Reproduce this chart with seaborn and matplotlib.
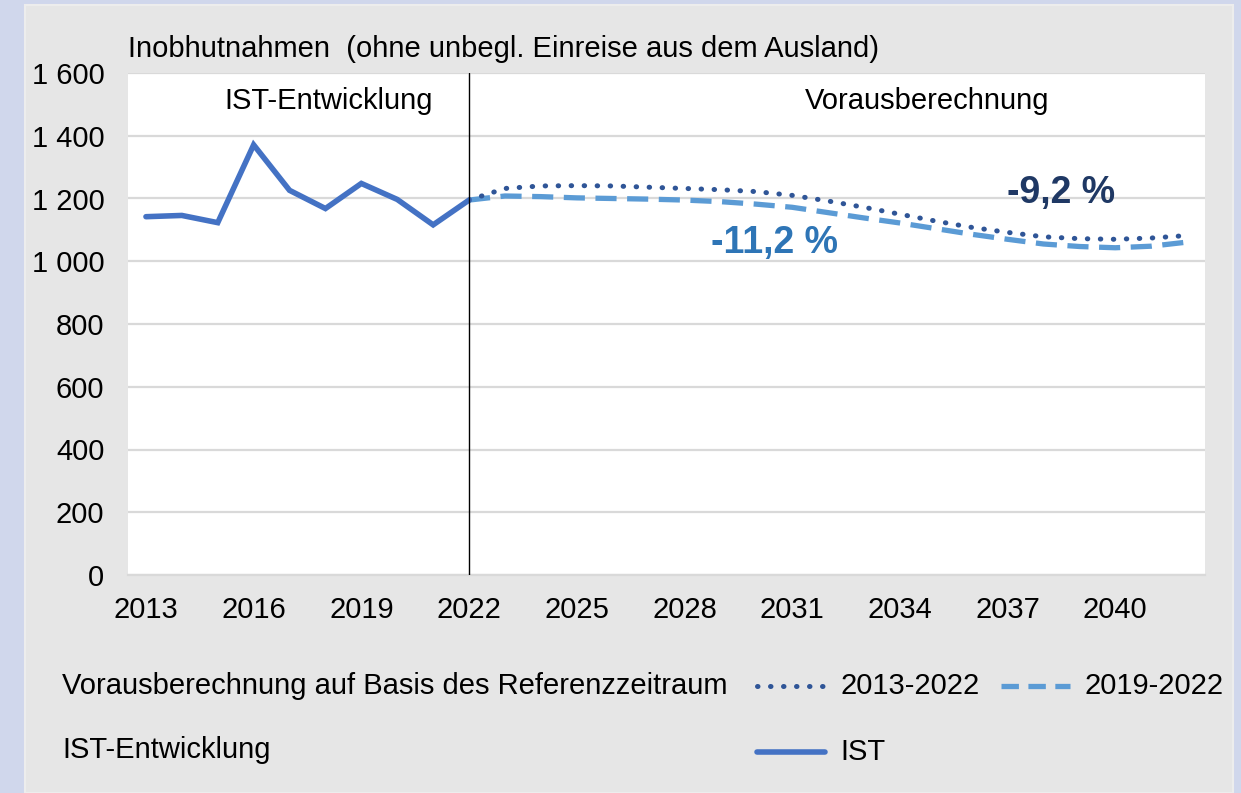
import numpy as np
import pandas as pd
import seaborn as sns
import matplotlib.pyplot as plt
from matplotlib.lines import Line2D
from matplotlib.patches import Rectangle

# Werte
years_ist = list(range(2013, 2023))
ist = [1142, 1146, 1123, 1371, 1226, 1168, 1248, 1197, 1116, 1195]

years_proj = list(range(2022, 2043))
proj_2013_2022 = [1195, 1232, 1240, 1241, 1240, 1236, 1232, 1228, 1222, 1210, 1192,
                  1172, 1150, 1128, 1108, 1092, 1078, 1072, 1070, 1074, 1082]
proj_2019_2022 = [1195, 1208, 1206, 1202, 1200, 1198, 1195, 1190, 1182, 1172, 1155,
                  1138, 1122, 1104, 1086, 1070, 1055, 1047, 1043, 1048, 1061]

x_ticks = list(range(2013, 2041, 3))
y_ticks = [0, 200, 400, 600, 800, 1000, 1200, 1400, 1600]
y_labels = ['0', '200', '400', '600', '800', '1 000', '1 200', '1 400', '1 600']

c_ist = '#4472c4'
c_dot = '#2f5597'
c_dash = '#5b9bd5'
fs = 21

sns.set_theme(style='white')
plt.rcParams['font.family'] = ['Liberation Sans', 'DejaVu Sans']
plt.rcParams['text.color'] = 'black'

W, H = 1241, 793
fig = plt.figure(figsize=(W / 100, H / 100), dpi=100)
fig.patch.set_facecolor('#d0d7ec')
fig.add_artist(Rectangle((25 / W, 0), (1233 - 25) / W, 1 - 5 / H,
                         transform=fig.transFigure, facecolor='#e6e6e6',
                         edgecolor='#ededed', lw=1.5, zorder=0))

ax = fig.add_axes([128 / W, 1 - 575 / H, (1205 - 128) / W, (575 - 73) / H])
ax.set_facecolor('white')

df_ist = pd.DataFrame({'Jahr': years_ist, 'Wert': ist})
df_a = pd.DataFrame({'Jahr': years_proj, 'Wert': proj_2013_2022})
df_b = pd.DataFrame({'Jahr': years_proj, 'Wert': proj_2019_2022})

sns.lineplot(data=df_b, x='Jahr', y='Wert', ax=ax, color=c_dash, lw=3.8,
             linestyle=(0, (4, 2)), zorder=3)
sns.lineplot(data=df_a, x='Jahr', y='Wert', ax=ax, color=c_dot, lw=3.6,
             linestyle=(0, (0.1, 2.5)), dash_capstyle='round', zorder=4)
sns.lineplot(data=df_ist, x='Jahr', y='Wert', ax=ax, color=c_ist, lw=4,
             solid_capstyle='round', solid_joinstyle='miter', zorder=5)

ax.axvline(2022, color='black', lw=1, zorder=6)

ax.set_xlim(2012.5, 2042.5)
ax.set_ylim(0, 1600)
ax.set_xticks(x_ticks)
ax.set_yticks(y_ticks)
ax.set_yticklabels(y_labels)
ax.tick_params(axis='both', length=0, labelsize=fs, colors='black')
ax.tick_params(axis='x', pad=15)
ax.tick_params(axis='y', pad=17)
ax.grid(axis='y', color='#d9d9d9', lw=1.6)
ax.set_axisbelow(True)
for s in ['top', 'left', 'right']:
    ax.spines[s].set_visible(False)
ax.spines['bottom'].set_color('#d9d9d9')
ax.spines['bottom'].set_linewidth(1.6)
ax.set_xlabel('')
ax.set_ylabel('')

ax.text(2018.1, 1510, 'IST-Entwicklung', fontsize=fs, ha='center', va='center')
ax.text(2034.75, 1510, 'Vorausberechnung', fontsize=fs, ha='center', va='center')
ax.text(2038.5, 1216, '-9,2 %', fontsize=27, fontweight='bold', color='#1f3864',
        ha='center', va='center')
ax.text(2030.5, 1058, '-11,2 %', fontsize=27, fontweight='bold', color='#2e75b6',
        ha='center', va='center')

fig.text(128 / W, 1 - 49 / H, 'Inobhutnahmen  (ohne unbegl. Einreise aus dem Ausland)',
         fontsize=fs, ha='left', va='center')

# Legende
fig.text(62 / W, 1 - 686 / H, 'Vorausberechnung auf Basis des Referenzzeitraum',
         fontsize=fs, ha='left', va='center')
fig.text(62 / W, 1 - 750 / H, 'IST-Entwicklung', fontsize=fs, ha='left', va='center')
fig.add_artist(Line2D([757 / W, 825 / W], [1 - 686 / H] * 2, transform=fig.transFigure,
                      color=c_dot, lw=3.6, linestyle=(0, (0.1, 2.5)), dash_capstyle='round'))
fig.text(840 / W, 1 - 686 / H, '2013-2022', fontsize=fs, ha='left', va='center')
fig.add_artist(Line2D([1001 / W, 1070 / W], [1 - 686 / H] * 2, transform=fig.transFigure,
                      color=c_dash, lw=3.8, linestyle=(0, (3.3, 1.8))))
fig.text(1085 / W, 1 - 686 / H, '2019-2022', fontsize=fs, ha='left', va='center')
fig.add_artist(Line2D([757 / W, 825 / W], [1 - 752 / H] * 2, transform=fig.transFigure,
                      color=c_ist, lw=4, solid_capstyle='round'))
fig.text(840 / W, 1 - 752 / H, 'IST', fontsize=fs, ha='left', va='center')

fig.savefig('out.png', dpi=100, facecolor=fig.get_facecolor())
